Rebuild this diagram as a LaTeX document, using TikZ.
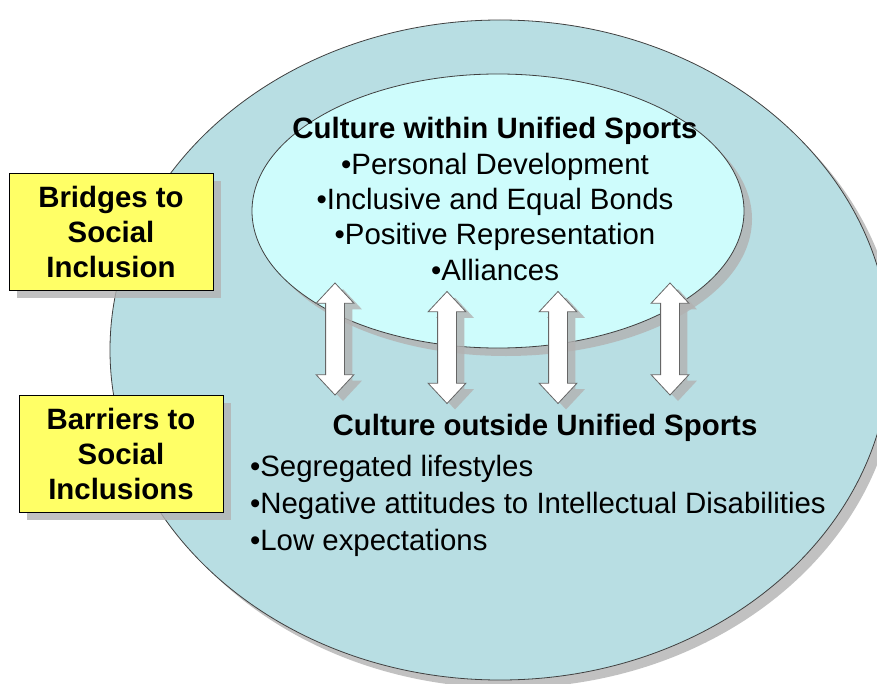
\documentclass[tikz,border=0pt]{standalone}
\usepackage{fontspec}
\setmainfont{Liberation Sans}
\usetikzlibrary{shapes.geometric,shapes.arrows,shadows}

\definecolor{outerblue}{RGB}{184,222,227}
\definecolor{innercyan}{RGB}{206,252,252}
\definecolor{noteyellow}{RGB}{255,255,102}

\begin{document}
\begin{tikzpicture}[
				x=0.5pt, y=-0.5pt,
				every node/.style={font=\fontsize{14.7}{17.7}\selectfont},
				bigell/.style={ellipse, draw=black!75, thin, fill=outerblue,
						minimum width=390pt, minimum height=330pt, inner sep=0pt,
						drop shadow={shadow xshift=4pt, shadow yshift=-4pt, fill=gray!60, opacity=.8}},
				smallell/.style={ellipse, draw=black!75, thin, fill=innercyan,
						minimum width=246pt, minimum height=137pt, inner sep=0pt,
						drop shadow={shadow xshift=4pt, shadow yshift=-4pt, fill=gray!60, opacity=.8}},
				updown/.style={double arrow, rotate=90, draw=black!60, fill=white,
						minimum height=56pt, minimum width=18.5pt, inner sep=4.5pt,
						double arrow head extend=4.75pt, double arrow tip angle=86,
						drop shadow={shadow xshift=4pt, shadow yshift=-3pt, fill=gray!60, opacity=.8}},
				tagbox/.style={rectangle, draw=black, fill=noteyellow, align=center,
						font=\fontsize{14.7}{17.5}\selectfont\bfseries,
						minimum width=102pt, minimum height=58.5pt, inner sep=0pt,
						drop shadow={shadow xshift=4pt, shadow yshift=-4pt, fill=gray!60, opacity=.8}}
			]
			\useasboundingbox (0,0) rectangle (877,684);
			% the two cultures
			\node[bigell] (outer) at (500,350) {};
			\node[smallell] (inner) at (498,211) {};
			% text of the inner culture
			\node[align=center] (within) at (495,199) {\textbf{Culture within Unified Sports}\\
				•Personal Development\\
				•Inclusive and Equal Bonds\\
				•Positive Representation\\
				•Alliances};
			% text of the outer culture
			\node (outtitle) at (545,428) {\textbf{Culture outside Unified Sports}};
			\node[align=left, anchor=west, font=\fontsize{14.7}{18.4}\selectfont] (outlist) at (243,506) {•Segregated lifestyles\\
				•Negative attitudes to Intellectual Disabilities\\
				•Low expectations};
			% exchange between the two
			\foreach \x/\y [count=\i] in {335/339, 447/347.5, 558/347.5, 670/339}
				\node[updown] (arr\i) at (\x,\y) {};
			% side notes
			\node[tagbox] (bridges) at (111,231.5) {Bridges to\\Social\\Inclusion};
			\node[tagbox] (barriers) at (121,453.5) {Barriers to\\Social\\Inclusions};
		\end{tikzpicture}
\end{document}
